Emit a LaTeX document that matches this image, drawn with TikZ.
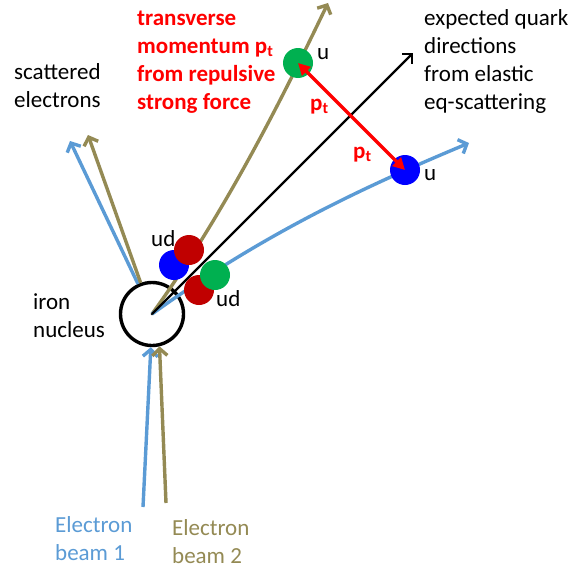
\documentclass[tikz,border=0pt]{standalone}
\usepackage{fontspec}
\setmainfont{Carlito}
\usetikzlibrary{arrows.meta}
\definecolor{eblue}{RGB}{91,155,213}
\definecolor{eolive}{RGB}{148,138,84}
\definecolor{qred}{RGB}{192,0,0}
\definecolor{qgreen}{RGB}{0,176,80}
\definecolor{qblue}{RGB}{0,0,255}
\definecolor{tred}{RGB}{255,0,0}
\begin{document}
\begin{tikzpicture}[x=1pt,y=-1pt,
  lbl/.style={anchor=base west, inner sep=0pt, align=left, font=\fontsize{23}{28}\selectfont},
  redlbl/.style={lbl, text=tred, font=\fontsize{23}{28}\selectfont\bfseries},
  ball/.style={circle, minimum size=30pt, inner sep=0pt},
  track/.style={line width=3.4pt, -{Straight Barb[length=7pt,width=15pt]}},
  bluetrack/.style={track, draw=eblue},
  olivetrack/.style={track, draw=eolive},
  ptarrow/.style={draw=tred, line width=3.5pt, {Triangle[length=12pt,width=12pt]}-{Triangle[length=12pt,width=12pt]}},
]
\useasboundingbox (0,0) rectangle (588,570);

% nucleus
\node[circle, draw=black, line width=3.4pt, minimum size=63pt, inner sep=0pt] (nuc) at (152,314) {};
\fill (nuc.center) circle (1.3pt);

% free ends
\coordinate (b1s) at (143,507);
\coordinate (b2s) at (166,503);
\coordinate (s1e) at (70,141);
\coordinate (s2e) at (88,135);
\coordinate (olend) at (328,3);
\coordinate (blend) at (469,143);
\coordinate (bkend) at (413,53);

% incoming beams
\draw[bluetrack] (b1s) -- (nuc.268);
\draw[olivetrack] (b2s) -- (nuc.283);
% scattered electrons
\draw[bluetrack] (nuc.115) -- (s1e);
\draw[olivetrack] (nuc.110) -- (s2e);
% quark tracks
\draw[olivetrack] (nuc.center) .. controls (224,214) and (280,103) .. (olend);
\draw[bluetrack] (nuc.center) .. controls (262,235) and (359,189) .. (blend);
\draw[line width=2.2pt, -{Straight Barb[length=7pt,width=14pt]}] (nuc.center) -- (bkend);

% balls
\node[ball, fill=qblue] (udb) at (174,265) {};
\node[ball, fill=qred] (udr) at (189,250) {};
\node[ball, fill=qred] (ldr) at (199,290) {};
\node[ball, fill=qgreen] (ldg) at (215,275) {};
\node[ball, fill=qgreen] (ug) at (298,63) {};
\node[ball, fill=qblue] (ub) at (405,170) {};

% transverse momentum
\draw[ptarrow] (ug.center) -- (ub.center);

% labels
\node[lbl] (t1) at (151,246) {ud};
\node[lbl] (t2) at (216,306) {ud};
\node[lbl] (t3) at (317,59) {u};
\node[lbl] (t4) at (424,180) {u};
\node[redlbl] (pt1) at (310,110) {p\textsubscript{t}};
\node[redlbl] (pt2) at (353,158) {p\textsubscript{t}};

\node[redlbl] (trans) at (137,109) {transverse\\momentum p\textsubscript{t}\\from repulsive\\strong force};
\node[lbl] (scat) at (14,107) {scattered\\electrons};
\node[lbl] (exp) at (424,109) {expected quark\\directions\\from elastic\\eq-scattering};
\node[lbl] (iron) at (33,337) {iron\\nucleus};
\node[lbl, text=eblue] (eb1) at (55,560) {Electron\\beam 1};
\node[lbl, text=eolive] (eb2) at (172,563) {Electron\\beam 2};
\end{tikzpicture}
\end{document}
